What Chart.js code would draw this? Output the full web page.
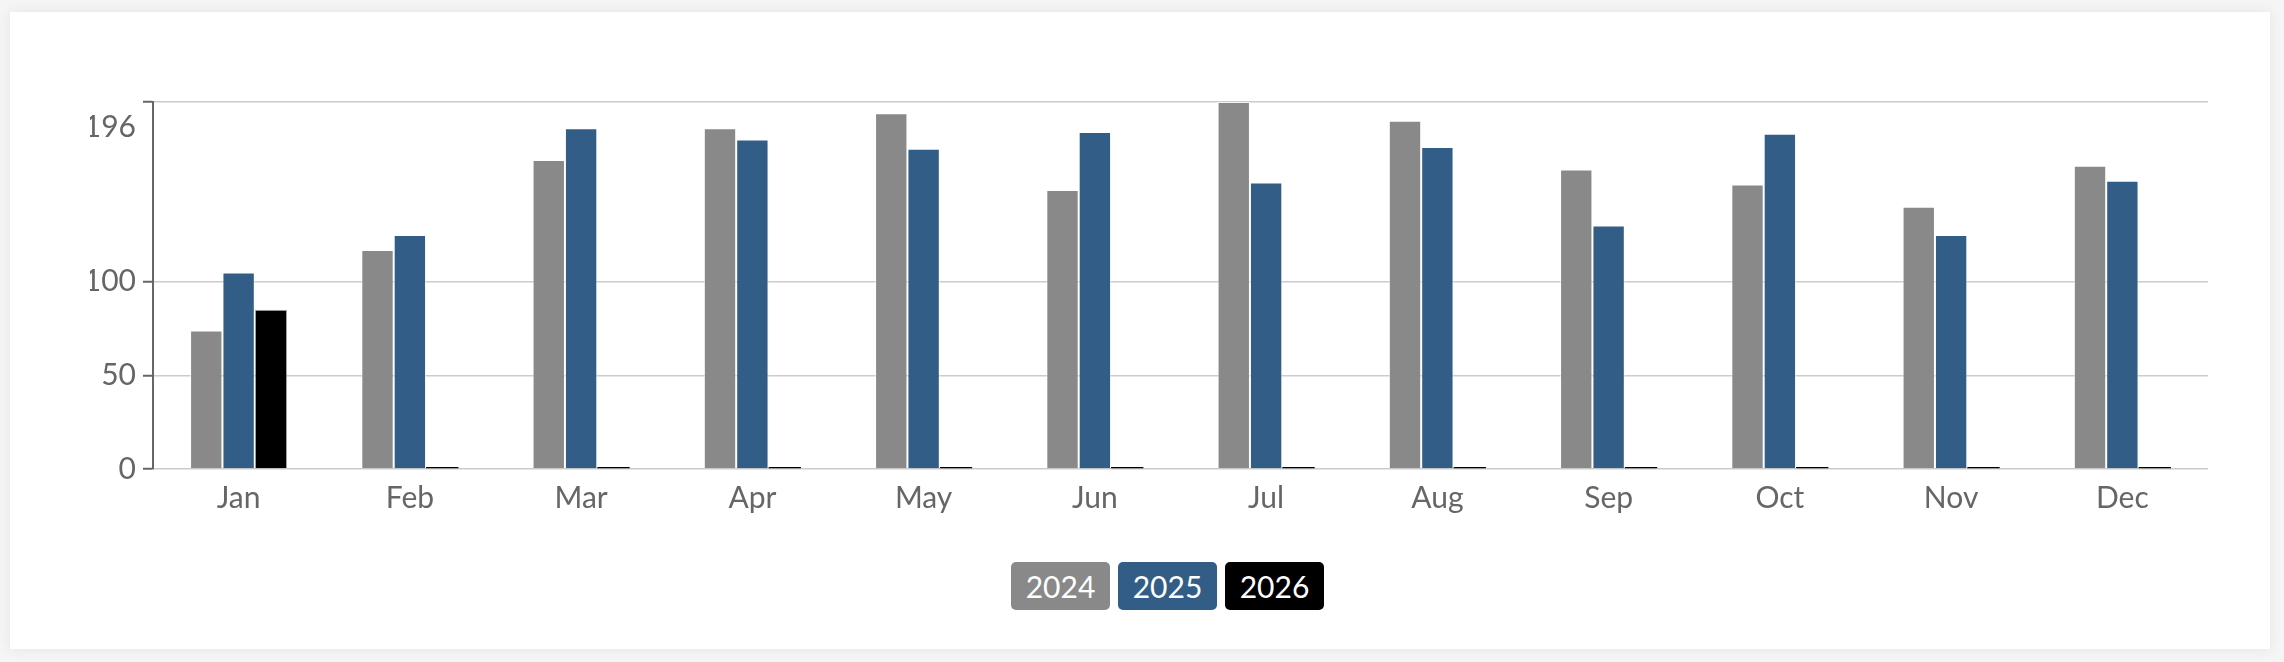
<!DOCTYPE html>
<html>
<head>
<meta charset="utf-8">
<script src="https://cdn.jsdelivr.net/npm/chart.js@4"></script>
<style>
    html, body { margin: 0; padding: 0; }
    body {
        width: 2284px;
        height: 662px;
        background: #f5f5f5;
        position: relative;
        overflow: hidden;
        font-family: "Lato", "Noto Sans", sans-serif;
    }
    .card {
        position: absolute;
        left: 10px;
        top: 12px;
        width: 2260px;
        height: 637px;
        background: #fff;
        box-shadow: 0 0 12px rgba(0, 0, 0, 0.07);
    }
    .chart-wrap {
        position: absolute;
        left: 0;
        top: 0;
        width: 2284px;
        height: 540px;
    }
    #legend {
        position: absolute;
        left: 1011px;
        top: 562px;
        display: flex;
        gap: 8px;
    }
    #legend span {
        display: block;
        width: 99px;
        height: 48px;
        line-height: 48px;
        border-radius: 5px;
        color: #fff;
        text-align: center;
        font-size: 30px;
    }
</style>
</head>
<body>
<div class="card"></div>
<div class="chart-wrap"><canvas id="chart-meses"></canvas></div>
<div id="legend"></div>

<script>
// ================================
//   DATOS
// ================================
const meses = ["Jan", "Feb", "Mar", "Apr", "May", "Jun", "Jul", "Aug", "Sep", "Oct", "Nov", "Dec"];
const anios = ["2024", "2025", "2026"];
const valores2024 = [74, 117, 165, 182, 190, 149, 196, 186, 160, 152, 140, 162];
const valores2025 = [105, 125, 182, 176, 171, 180, 153, 172, 130, 179, 125, 154];
const valores2026 = [85, 0, 0, 0, 0, 0, 0, 0, 0, 0, 0, 0];
const yTicks = [0, 50, 100, 196];

const colores = ["#898989", "#325d86", "#000000"];
const series = [valores2024, valores2025, valores2026];

const fontFamily = "Lato, 'Noto Sans', sans-serif";

// ================================
//   CHART
// ================================
const ctx = document.getElementById("chart-meses").getContext("2d");

const datasets = anios.map((anio, i) => ({
    label: anio,
    data: series[i],
    backgroundColor: colores[i],
    borderColor: i === 2 ? "rgba(150,150,150,0.7)" : "rgba(255,255,255,0.55)",
    borderWidth: c => (c.raw === 0 ? 0 : 1),
    borderSkipped: "bottom",
    minBarLength: i === 2 ? 2 : 0,
    categoryPercentage: 0.567,
    barPercentage: 1.0
}));

const chartMeses = new Chart(ctx, {
    type: "bar",
    data: {
        labels: meses,
        datasets: datasets
    },
    options: {
        responsive: true,
        maintainAspectRatio: false,
        animation: false,
        layout: { padding: { left: 90, right: 76, top: 102, bottom: 21 } },
        plugins: {
            legend: { display: false },
            tooltip: { enabled: false }
        },
        scales: {
            x: {
                grid: { display: false },
                border: { display: false },
                ticks: {
                    padding: 3,
                    color: "#666",
                    font: { family: fontFamily, size: 30 }
                },
                afterFit: s => { s.height = 50; }
            },
            y: {
                min: 0,
                max: 196,
                grid: {
                    color: "#cccccc",
                    lineWidth: 1.5,
                    tickColor: "#666",
                    tickWidth: 2,
                    tickLength: 10
                },
                border: { color: "#666", width: 2 },
                afterBuildTicks: s => { s.ticks = yTicks.map(v => ({ value: v })); },
                ticks: {
                    padding: 7,
                    color: "#666",
                    callback: v => (v === 196 ? ["", String(v)] : String(v)),
                    font: c => ({
                        family: fontFamily,
                        size: 30,
                        lineHeight: c.tick && c.tick.value === 196 ? 1.68 : 1.2
                    })
                },
                afterFit: s => { s.width = 63; }
            }
        }
    }
});

// ================================
//   LEYENDA HTML
// ================================
const legend = document.getElementById("legend");
chartMeses.data.datasets.forEach(ds => {
    const item = document.createElement("span");
    item.textContent = ds.label;
    item.style.background = ds.backgroundColor;
    legend.appendChild(item);
});
</script>
</body>
</html>
